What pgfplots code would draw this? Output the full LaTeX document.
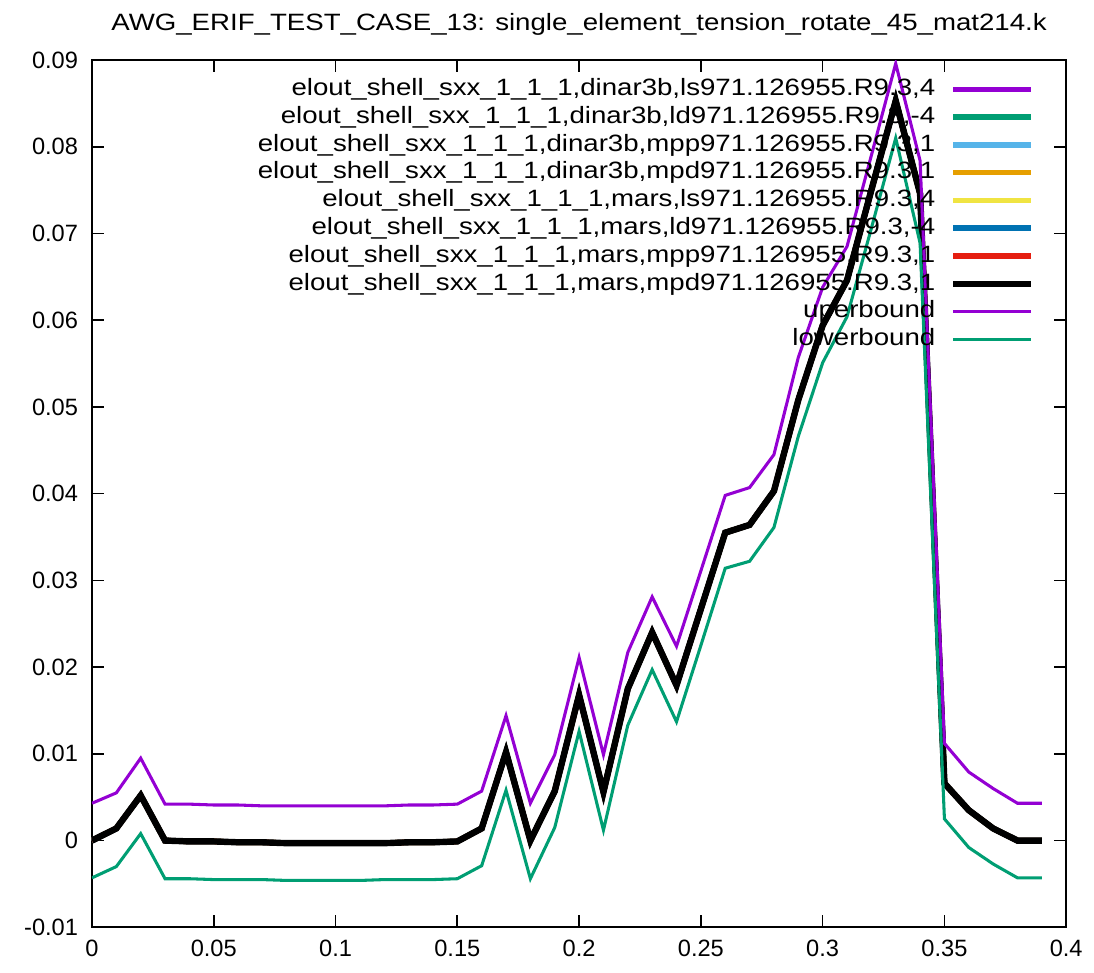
\documentclass[border=0pt]{standalone}
\usepackage{fontspec}
\setmainfont{Liberation Sans}
\newfontfamily\widefont[FakeStretch=1.17]{Liberation Sans}
\usepackage{pgfplots}
\pgfplotsset{compat=1.18}
\usepackage{pgfplotstable}

\definecolor{gpPurple}{HTML}{9400D3}
\definecolor{gpGreen}{HTML}{009E73}
\definecolor{gpSky}{HTML}{56B4E9}
\definecolor{gpOrange}{HTML}{E69F00}
\definecolor{gpYellow}{HTML}{F0E442}
\definecolor{gpBlue}{HTML}{0072B2}
\definecolor{gpRed}{HTML}{E51E10}

\pgfplotstableread{
x     main     upper    lower
0.00  0.0000   0.0043  -0.0043
0.01  0.0014   0.0055  -0.0030
0.02  0.0052   0.0095   0.0008
0.03  0.0000   0.0042  -0.0044
0.04 -0.0001   0.0042  -0.0044
0.05 -0.0001   0.0041  -0.0045
0.06 -0.0002   0.0041  -0.0045
0.07 -0.0002   0.0040  -0.0045
0.08 -0.0003   0.0040  -0.0046
0.09 -0.0003   0.0040  -0.0046
0.10 -0.0003   0.0040  -0.0046
0.11 -0.0003   0.0040  -0.0046
0.12 -0.0003   0.0040  -0.0045
0.13 -0.0002   0.0041  -0.0045
0.14 -0.0002   0.0041  -0.0045
0.15 -0.0001   0.0042  -0.0044
0.16  0.0014   0.0057  -0.0029
0.17  0.0102   0.0144   0.0058
0.18  0.0000   0.0043  -0.0044
0.19  0.0057   0.0099   0.0015
0.20  0.0168   0.0211   0.0126
0.21  0.0056   0.0099   0.0012
0.22  0.0175   0.0217   0.0133
0.23  0.0240   0.0281   0.0197
0.24  0.0179   0.0224   0.0137
0.25  0.0267   0.0311   0.0225
0.26  0.0355   0.0398   0.0314
0.27  0.0364   0.0407   0.0322
0.28  0.0403   0.0445   0.0361
0.29  0.0508   0.0557   0.0466
0.30  0.0594   0.0638   0.0551
0.31  0.0646   0.0685   0.0604
0.32  0.0750   0.0790   0.0706
0.33  0.0853   0.0896   0.0810
0.34  0.0746   0.0784   0.0689
0.35  0.0066   0.0112   0.0025
0.36  0.0035   0.0079  -0.0008
0.37  0.0014   0.0060  -0.0027
0.38  0.0000   0.0043  -0.0043
0.39  0.0000   0.0043  -0.0043
}\data

\begin{document}
\begin{tikzpicture}
\begin{axis}[
  scale only axis,
  width=350.6pt, height=312.1pt,
  xmin=0, xmax=0.4, ymin=-0.01, ymax=0.09,
  scaled x ticks=false, scaled y ticks=false,
  xtick={0,0.05,0.1,0.15,0.2,0.25,0.3,0.35,0.4},
  xticklabels={0,0.05,0.1,0.15,0.2,0.25,0.3,0.35,0.4},
  ytick={-0.01,0,0.01,0.02,0.03,0.04,0.05,0.06,0.07,0.08,0.09},
  yticklabels={-0.01,0,0.01,0.02,0.03,0.04,0.05,0.06,0.07,0.08,0.09},
  tick align=inside,
  major tick length=4.3pt,
  axis line style={line width=0.7pt},
  every tick/.style={black, line width=0.6pt},
  tick label style={font=\fontsize{8.5}{10}\selectfont},
  xticklabel style={yshift=-1pt},
  yticklabel style={xshift=-1.5pt},
  legend plot pos=right,
  legend cell align=right,
  legend image code/.code={\draw[#1] (0pt,0pt) -- (28pt,0pt);},
  legend style={at={(rel axis cs:1,1)}, anchor=north east, xshift=-8.3pt, yshift=-4.1pt,
    draw=none, fill=none, font=\widefont\fontsize{8.5}{10}\selectfont,
    row sep=1.5pt, column sep=5.3pt,
    nodes={inner sep=0pt, text height=6.5pt, text depth=2pt}},
]
\addplot[gpPurple, line width=2pt] table[x=x,y=main]{\data};
\addlegendentry{elout\_shell\_sxx\_1\_1\_1,dinar3b,ls971.126955.R9.3,4}
\addplot[gpGreen, line width=2pt] table[x=x,y=main]{\data};
\addlegendentry{elout\_shell\_sxx\_1\_1\_1,dinar3b,ld971.126955.R9.3,-4}
\addplot[gpSky, line width=2pt] table[x=x,y=main]{\data};
\addlegendentry{elout\_shell\_sxx\_1\_1\_1,dinar3b,mpp971.126955.R9.3,1}
\addplot[gpOrange, line width=2pt] table[x=x,y=main]{\data};
\addlegendentry{elout\_shell\_sxx\_1\_1\_1,dinar3b,mpd971.126955.R9.3,1}
\addplot[gpYellow, line width=2pt] table[x=x,y=main]{\data};
\addlegendentry{elout\_shell\_sxx\_1\_1\_1,mars,ls971.126955.R9.3,4}
\addplot[gpBlue, line width=2pt] table[x=x,y=main]{\data};
\addlegendentry{elout\_shell\_sxx\_1\_1\_1,mars,ld971.126955.R9.3,-4}
\addplot[gpRed, line width=2pt] table[x=x,y=main]{\data};
\addlegendentry{elout\_shell\_sxx\_1\_1\_1,mars,mpp971.126955.R9.3,1}
\addplot[black, line width=2.3pt] table[x=x,y=main]{\data};
\addlegendentry{elout\_shell\_sxx\_1\_1\_1,mars,mpd971.126955.R9.3,1}
\addplot[gpPurple, line width=1.1pt] table[x=x,y=upper]{\data};
\addlegendentry{uperbound}
\addplot[gpGreen, line width=1.1pt] table[x=x,y=lower]{\data};
\addlegendentry{lowerbound}
\end{axis}
\node[anchor=base, inner sep=0pt, font=\widefont\fontsize{8.5}{10}\selectfont] at ([yshift=10.8pt]current axis.north) {AWG\_ERIF\_TEST\_CASE\_13: single\_element\_tension\_rotate\_45\_mat214.k};
\pgfresetboundingbox
\useasboundingbox ([xshift=-33.1pt,yshift=-16.2pt]current axis.south west) rectangle ([xshift=10pt,yshift=21.6pt]current axis.north east);
\end{tikzpicture}
\end{document}
